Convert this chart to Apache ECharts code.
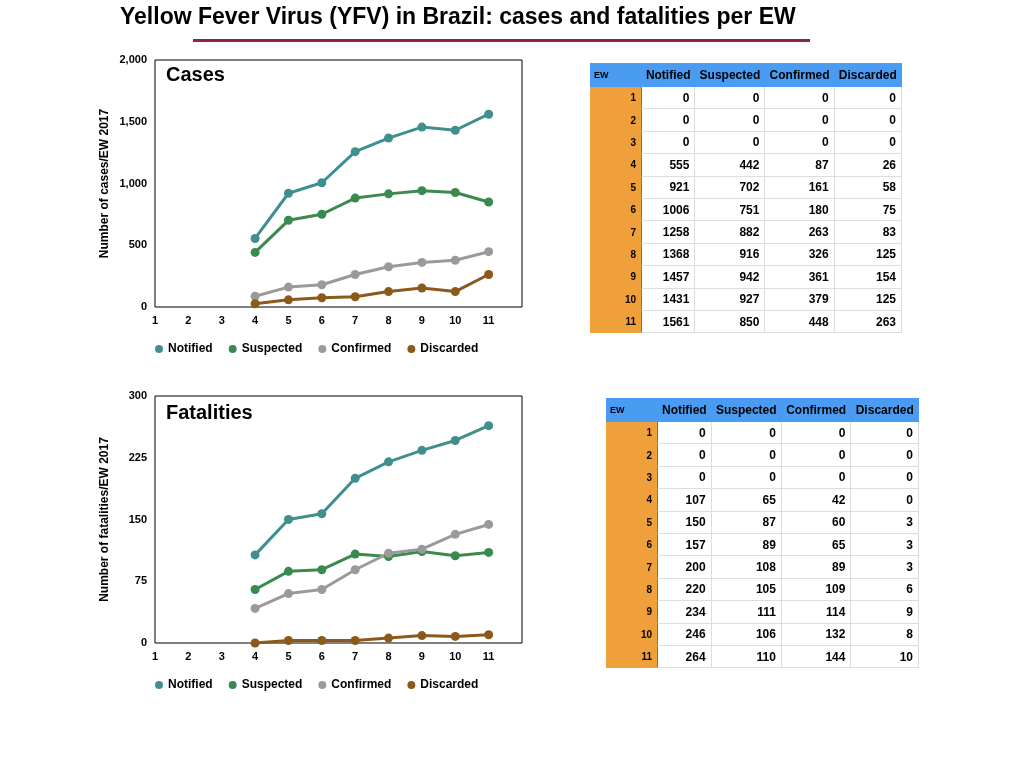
<!DOCTYPE html>
<html><head><meta charset="utf-8">
<script src="https://cdn.jsdelivr.net/npm/echarts@6/dist/echarts.min.js"></script>
<style>
body{margin:0;width:1024px;height:768px;background:#fff;font-family:"Liberation Sans",Arial,sans-serif;position:relative;overflow:hidden}
#c{position:absolute;left:0;top:0;width:1024px;height:768px}
table{position:absolute;border-collapse:collapse;font-size:12px;font-weight:bold}
td{border:1px solid #ddd;text-align:right;padding:0 5px 0 0;height:21.4px}
th{background:#4a9cf2;color:#000;font-weight:bold;height:22px;padding:0 3px;border:1px solid #4a9cf2;text-align:center}
td.ew{background:#f0a03a;font-size:10px;border-color:#f0a03a;border-right:1px solid #777}
th.ew{font-size:9px;text-align:left}
</style></head><body>
<div id="c"></div>
<table id="t1" style="left:590px;top:63px;width:312px"></table>
<table id="t2" style="left:606px;top:398px;width:313px"></table>
<script>
const ew = [1,2,3,4,5,6,7,8,9,10,11];
const casesNotified = [0,0,0,555,921,1006,1258,1368,1457,1431,1561];
const casesSuspected = [0,0,0,442,702,751,882,916,942,927,850];
const casesConfirmed = [0,0,0,87,161,180,263,326,361,379,448];
const casesDiscarded = [0,0,0,26,58,75,83,125,154,125,263];
const fatNotified = [0,0,0,107,150,157,200,220,234,246,264];
const fatSuspected = [0,0,0,65,87,89,108,105,111,106,110];
const fatConfirmed = [0,0,0,42,60,65,89,109,114,132,144];
const fatDiscarded = [0,0,0,0,3,3,3,6,9,8,10];
const names = ['Notified','Suspected','Confirmed','Discarded'];
const colors = ['#3f8f8f','#3a8a50','#9a9a9a','#8b5a1a'];

function fillTable(id, cols){
  let h = '<tr><th class="ew" style="width:44px">EW</th>' + names.map(n=>'<th>'+n+'</th>').join('') + '</tr>';
  ew.forEach((e,i)=>{
    h += '<tr><td class="ew">'+e+'</td>' + cols.map(c=>'<td>'+c[i]+'</td>').join('') + '</tr>';
  });
  document.getElementById(id).innerHTML = h;
}
fillTable('t1',[casesNotified,casesSuspected,casesConfirmed,casesDiscarded]);
fillTable('t2',[fatNotified,fatSuspected,fatConfirmed,fatDiscarded]);

const pts = arr => ew.slice(3).map((e,i)=>[e,arr[i+3]]);
const grids = [{left:155,top:60,width:367,height:247,show:true,borderColor:'#000',borderWidth:1},
               {left:155,top:396,width:367,height:247,show:true,borderColor:'#000',borderWidth:1}];
const axisX = gi => ({type:'value',gridIndex:gi,min:1,max:12,interval:1,
  axisLine:{show:false},axisTick:{show:false},splitLine:{show:false},
  axisLabel:{color:'#000',fontWeight:'bold',fontSize:11,formatter:v=>v>11?'':v}});
const axisY = (gi,max,iv,name) => ({type:'value',gridIndex:gi,min:0,max:max,interval:iv,
  name:name,nameLocation:'middle',nameGap:44,nameTextStyle:{fontWeight:'bold',fontSize:12,color:'#000'},
  axisLine:{show:false},axisTick:{show:false},splitLine:{show:false},
  axisLabel:{color:'#000',fontWeight:'bold',fontSize:11}});
const mk = (gi,sets) => sets.map((a,k)=>({type:'line',name:names[k],xAxisIndex:gi,yAxisIndex:gi,
  data:pts(a),symbol:'circle',symbolSize:9,lineStyle:{width:3,color:colors[k]},itemStyle:{color:colors[k]}}));
const legend = top => ({top:top,left:150,itemGap:16,data:names,icon:'circle',itemWidth:8,itemHeight:8,
  textStyle:{fontWeight:'bold',fontSize:12,color:'#000'}});

const chart = echarts.init(document.getElementById('c'));
chart.setOption({
  animation:false,
  graphic:[
    {type:'text',left:'center',top:6,style:{text:'Yellow Fever Virus (YFV) in Brazil: cases and fatalities per EW',
      font:'bold 23px "Liberation Sans", Arial',fill:'#000'},left:120},
    {type:'rect',shape:{x:193,y:39,width:617,height:3},style:{fill:'#8b2252'}},
    {type:'text',left:166,top:65,style:{text:'Cases',font:'bold 20px "Liberation Sans", Arial',fill:'#000'}},
    {type:'text',left:166,top:403,style:{text:'Fatalities',font:'bold 20px "Liberation Sans", Arial',fill:'#000'}}
  ],
  grid:grids,
  xAxis:[axisX(0),axisX(1)],
  yAxis:[axisY(0,2000,500,'Number of cases/EW 2017'),axisY(1,300,75,'Number of fatalities/EW 2017')],
  legend:[legend(338),legend(674)],
  series:[...mk(0,[casesNotified,casesSuspected,casesConfirmed,casesDiscarded]),
          ...mk(1,[fatNotified,fatSuspected,fatConfirmed,fatDiscarded])]
});
</script>
</body></html>
